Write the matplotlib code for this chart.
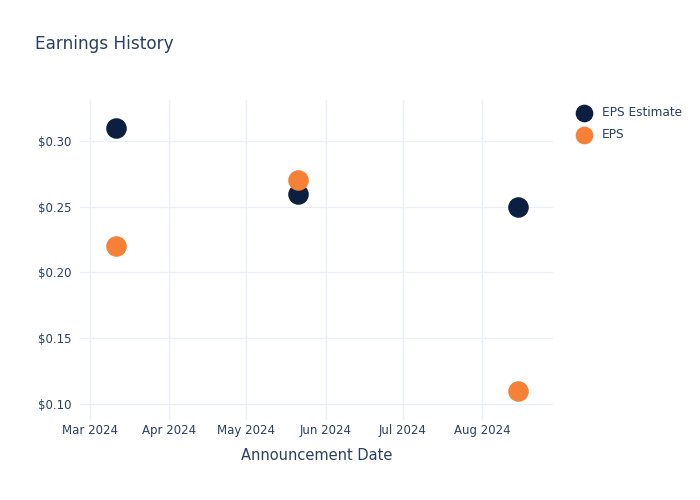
import matplotlib
import numpy as np
import pandas as pd

matplotlib.use("Agg")
import matplotlib.pyplot as plt
import matplotlib.dates as mdates

# Earnings data
dates = pd.to_datetime(["2024-03-11", "2024-05-21", "2024-08-15"])
eps_estimate = [0.31, 0.26, 0.25]
eps_actual = [0.22, 0.27, 0.11]

y_ticks = [0.10, 0.15, 0.20, 0.25, 0.30]
x_ticks = pd.to_datetime(["2024-03-01", "2024-04-01", "2024-05-01",
                          "2024-06-01", "2024-07-01", "2024-08-01"])

TEXT = "#2a3f5f"
GRID = "#ebf0f8"
NAVY = "#0c1f41"
ORANGE = "#f58036"

plt.rcParams["font.family"] = ["DejaVu Sans"]

fig = plt.figure(figsize=(7, 5), dpi=100)
ax = fig.add_axes([80 / 700, 80 / 500, 473 / 700, 320 / 500])

ax.scatter(dates, eps_estimate, s=190, color=NAVY, label="EPS Estimate", zorder=3)
ax.scatter(dates, eps_actual, s=190, color=ORANGE, label="EPS", zorder=3)

ax.set_ylim(0.0878, 0.3312)
ax.set_xlim(pd.Timestamp("2024-02-26 02:00"), pd.Timestamp("2024-08-28 16:00"))

ax.set_yticks(y_ticks)
ax.set_yticklabels([f"${v:.2f}" for v in y_ticks])
ax.set_xticks(x_ticks)
ax.xaxis.set_major_formatter(mdates.DateFormatter("%b %Y"))

for s in ax.spines.values():
    s.set_visible(False)
ax.grid(True, color=GRID, linewidth=1)
ax.set_axisbelow(True)
ax.tick_params(axis="y", length=0, labelsize=8.5, colors=TEXT, pad=6)
ax.tick_params(axis="x", length=0, labelsize=8.5, colors=TEXT, pad=3)

ax.set_xlabel("Announcement Date", fontsize=10.5, color=TEXT, labelpad=8)

fig.text(35 / 700, 1 - 44 / 500, "Earnings History", fontsize=12.2,
         color=TEXT, va="center", ha="left")

ax.legend(loc="upper left", bbox_to_anchor=(572 / 700, 1 - 106 / 500),
          bbox_transform=fig.transFigure, frameon=False, fontsize=8.7,
          labelcolor=TEXT, handletextpad=0.5, labelspacing=0.75,
          borderaxespad=0, borderpad=0, markerscale=0.85)

fig.savefig("out.png", dpi=100)
